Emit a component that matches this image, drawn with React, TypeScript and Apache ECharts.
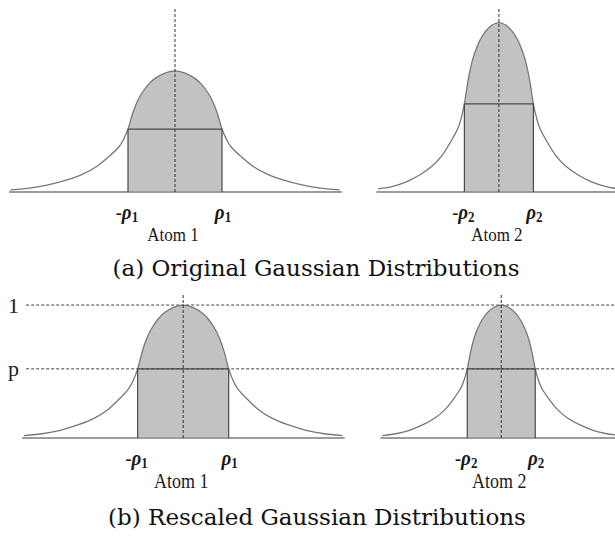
import React, { useEffect, useRef } from "react";
import * as echarts from "echarts";

// Shared bell profile: offset in units of rho, height relative to the peak
const PROFILE_U = [-3.5, -3.1, -2.7, -2.3, -1.95, -1.65, -1.4, -1.2, -1.1, -1.0, -0.9, -0.8, -0.7, -0.55, -0.4, -0.2, 0,
  0.2, 0.4, 0.55, 0.7, 0.8, 0.9, 1.0, 1.1, 1.2, 1.4, 1.65, 1.95, 2.3, 2.7, 3.1, 3.5];
const PROFILE_H = [0.018, 0.032, 0.058, 0.1, 0.15, 0.215, 0.295, 0.37, 0.43, 0.52, 0.65, 0.75, 0.82, 0.895, 0.945, 0.985, 1.0,
  0.985, 0.945, 0.895, 0.82, 0.75, 0.65, 0.52, 0.43, 0.37, 0.295, 0.215, 0.15, 0.1, 0.058, 0.032, 0.018];

// Level p (relative to the peak) where the shaded box ends
const P_LEVEL = 0.52;

// (a) Original Gaussian distributions
const TOP_CENTERS = [0, 6.89];
const TOP_RHO = [1, 0.734];
const TOP_PEAK = [1, 1.4];
// (b) Rescaled Gaussian distributions
const BOTTOM_CENTERS = [0, 6.99];
const BOTTOM_RHO = [1, 0.747];
const BOTTOM_PEAK = [1, 1];

const ATOM_NAMES = ["Atom 1", "Atom 2"];
const RHO_SUBS = ["1", "2"];
const Y_TICK_VALUES = [1, P_LEVEL];
const Y_TICK_LABELS = ["1", "p"];
const CAPTIONS = ["(a) Original Gaussian Distributions", "(b) Rescaled Gaussian Distributions"];

const TOP_X = [-3.51, 9.36];
const TOP_YMAX = 1.52;
const BOT_X = [-3.52, 9.49];
const BOT_YMAX = 1.083;

const SERIF = "Liberation Serif";
const INK = "#1a1a1a";

function atomSeries(g: number, c: number, rho: number, peak: number, yMax: number) {
  const pts = PROFILE_U.map((u, i) => [c + u * rho, PROFILE_H[i] * peak]);
  const inner = PROFILE_U.map((u, i) => [u, i] as [number, number])
    .filter(([u]) => Math.abs(u) <= 1.0001)
    .map(([u, i]) => [c + u * rho, PROFILE_H[i] * peak]);
  const pY = P_LEVEL * peak;
  const common = { xAxisIndex: g, yAxisIndex: g, silent: true, symbol: "none" };
  return [
    { ...common, type: "line", data: inner, smooth: 0.2, lineStyle: { width: 0 }, areaStyle: { color: "#c2c2c2", opacity: 1 } },
    { ...common, type: "line", data: [[c - 3.55 * rho, 0], [c + 3.55 * rho, 0]], lineStyle: { color: "#9c9c9c", width: 2 } },
    { ...common, type: "line", data: pts, smooth: 0.2, lineStyle: { color: "#777", width: 1.3 } },
    { ...common, type: "line", data: [[c - rho, 0], [c - rho, pY], [c + rho, pY], [c + rho, 0]], lineStyle: { color: "#4a4a4a", width: 1.2 } },
    { ...common, type: "line", data: [[c, 0], [c, yMax]], lineStyle: { color: "#333", width: 1, type: [3, 2] } },
  ];
}

const RICH = {
  r: { fontFamily: SERIF, fontSize: 19, fontWeight: "bold", fontStyle: "italic", fill: INK, lineHeight: 22 },
  m: { fontFamily: SERIF, fontSize: 18, fontWeight: "bold", fill: INK, lineHeight: 22 },
  s: { fontFamily: SERIF, fontSize: 13, fontWeight: "bold", fill: INK, lineHeight: 8, verticalAlign: "bottom" },
};

export default function App() {
  const ref = useRef<HTMLDivElement>(null);
  useEffect(() => {
    const chart = echarts.init(ref.current!, null, { renderer: "svg" });
    const series: any[] = [];
    TOP_CENTERS.forEach((c, i) => series.push(...atomSeries(0, c, TOP_RHO[i], TOP_PEAK[i], TOP_YMAX)));
    // dashed reference lines at 1 and p
    Y_TICK_VALUES.forEach((v) =>
      series.push({
        type: "line", xAxisIndex: 1, yAxisIndex: 1, symbol: "none", silent: true,
        data: [[-3.45, v], [BOT_X[1], v]], lineStyle: { color: "#444", width: 1, type: [3, 2] },
      })
    );
    BOTTOM_CENTERS.forEach((c, i) => series.push(...atomSeries(1, c, BOTTOM_RHO[i], BOTTOM_PEAK[i], BOT_YMAX)));

    const hiddenX = (r: number[]) => ({ type: "value", min: r[0], max: r[1], show: false });
    chart.setOption({
      animation: false,
      backgroundColor: "#fff",
      grid: [
        { left: 10, right: 0, top: 8, height: 184 },
        { left: 23, right: 0, top: 294, height: 144 },
      ],
      xAxis: [{ ...hiddenX(TOP_X), gridIndex: 0 }, { ...hiddenX(BOT_X), gridIndex: 1 }],
      yAxis: [
        { type: "value", gridIndex: 0, min: 0, max: TOP_YMAX, show: false },
        {
          type: "value", gridIndex: 1, min: 0, max: BOT_YMAX,
          axisLine: { show: false }, axisTick: { show: false }, splitLine: { show: false },
          axisLabel: {
            show: true, customValues: Y_TICK_VALUES, margin: 4,
            formatter: (v: number) => Y_TICK_LABELS[Y_TICK_VALUES.indexOf(v)] ?? (v > 0.8 ? "1" : "p"),
            fontFamily: SERIF, fontSize: 22, color: "#222",
          },
        },
      ],
      series,
    });

    // Axis-position labels (rho marks and atom names), placed through the grids' scales
    const graphics: any[] = [];
    const addLabels = (g: number, centers: number[], rhos: number[], nameSize: number) => {
      centers.forEach((c, i) => {
        const sub = RHO_SUBS[i];
        const [xl, y0] = chart.convertToPixel({ gridIndex: g }, [c - rhos[i], 0]) as number[];
        const [xr] = chart.convertToPixel({ gridIndex: g }, [c + rhos[i], 0]) as number[];
        const [xc] = chart.convertToPixel({ gridIndex: g }, [c, 0]) as number[];
        const rhoStyle = (t: string) => ({ text: t, rich: RICH, align: "center", verticalAlign: "middle" });
        graphics.push({ type: "text", x: xl - 1, y: y0 + 20, scaleY: 1.1, style: rhoStyle(`{m|-}{r|ρ}{s|${sub}}`) });
        graphics.push({ type: "text", x: xr + 1, y: y0 + 20, scaleY: 1.1, style: rhoStyle(`{r|ρ}{s|${sub}}`) });
        graphics.push({
          type: "text", x: xc - 2, y: y0 + 43, scaleY: 1.12,
          style: { text: ATOM_NAMES[i], font: `${nameSize}px '${SERIF}'`, fill: INK, align: "center", verticalAlign: "middle" },
        });
      });
    };
    addLabels(0, TOP_CENTERS, TOP_RHO, 17);
    addLabels(1, BOTTOM_CENTERS, BOTTOM_RHO, 18);
    graphics.push(
      { type: "text", x: 316, y: 268, style: { text: CAPTIONS[0], font: "23px 'DejaVu Serif'", fill: "#111", align: "center", verticalAlign: "middle" } },
      { type: "text", x: 317, y: 517, style: { text: CAPTIONS[1], font: "23px 'DejaVu Serif'", fill: "#111", align: "center", verticalAlign: "middle" } }
    );
    chart.setOption({ graphic: graphics });
    return () => chart.dispose();
  }, []);
  return <div ref={ref} style={{ position: "absolute", left: 0, top: 0, width: 615, height: 536 }} />;
}
